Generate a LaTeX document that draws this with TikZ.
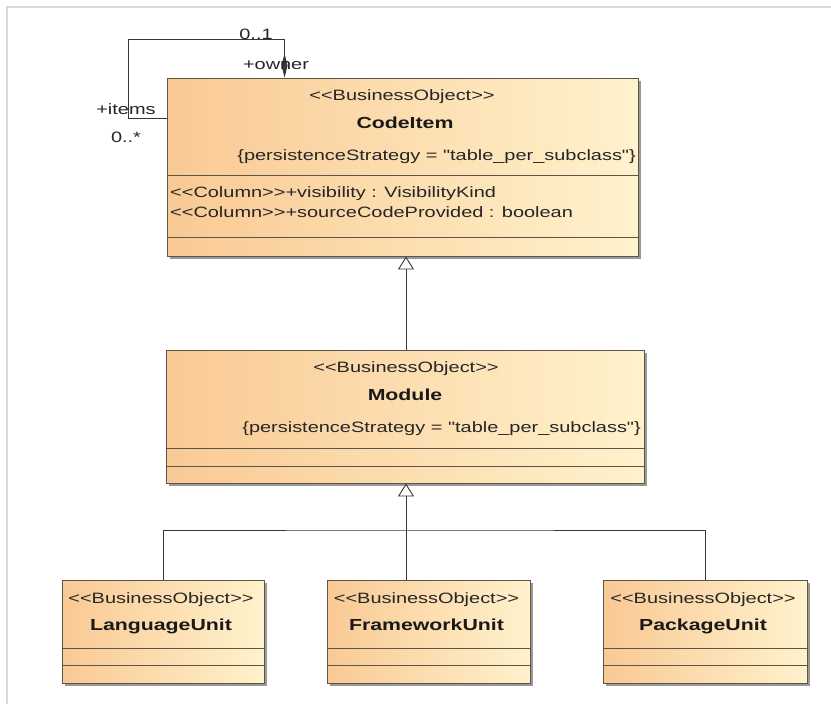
\documentclass[tikz,border=0pt]{standalone}
\usepackage{fontspec}
\usepackage{graphicx}
\newfontfamily\umlf{Liberation Sans}
\usetikzlibrary{arrows.meta,shadows}
\newcommand\hs[1]{\scalebox{1.33}[1]{#1}}
\definecolor{peach}{RGB}{249,201,148}
\definecolor{cream}{RGB}{255,242,204}
\definecolor{boxline}{RGB}{95,85,70}
\definecolor{connc}{RGB}{55,55,55}
\definecolor{framec}{RGB}{218,218,218}
\begin{document}
\begin{tikzpicture}[x=1pt,y=-1pt,
  umlbox/.style={draw=boxline, line width=0.9pt, left color=peach, right color=cream,
    drop shadow={shadow xshift=3pt, shadow yshift=-3pt, fill=black!40, opacity=1},
    inner sep=0pt},
  sepline/.style={draw=boxline, line width=0.8pt},
  txt/.style={font=\umlf\fontsize{15}{18}\selectfont, inner sep=0pt, text=black!85,
    text height=11pt, text depth=3pt},
  bname/.style={font=\umlf\bfseries\fontsize{16}{19}\selectfont, inner sep=0pt, text=black!90,
    text height=12pt, text depth=3pt},
  conn/.style={draw=connc, line width=0.9pt},
  gen/.style={conn, -{Triangle[open, length=13pt, width=16pt, fill=white]}},
  comp/.style={conn, -{Diamond[length=24pt, width=6pt]}}
  ]
\useasboundingbox (0,0) rectangle (831,704);
\fill[white] (0,0) rectangle (831,704);
\draw[framec, line width=1.5pt] (7,704) -- (7,7) -- (831,7);

% boxes
\node[umlbox, minimum width=471pt, minimum height=178pt] (codeitem) at (402.5,167) {};
\node[umlbox, minimum width=478pt, minimum height=133pt] (module) at (405,416.5) {};
\node[umlbox, minimum width=202pt, minimum height=103pt] (lang) at (163,631.5) {};
\node[umlbox, minimum width=203pt, minimum height=103pt] (frame) at (428.5,631.5) {};
\node[umlbox, minimum width=204pt, minimum height=103pt] (pack) at (705,631.5) {};

% compartments
\draw[sepline] (codeitem.west |- 0,175) -- (codeitem.east |- 0,175);
\draw[sepline] (codeitem.west |- 0,237) -- (codeitem.east |- 0,237);
\draw[sepline] (module.west |- 0,448) -- (module.east |- 0,448);
\draw[sepline] (module.west |- 0,466) -- (module.east |- 0,466);
\foreach \b in {lang,frame,pack}{
  \draw[sepline] (\b.west |- 0,648) -- (\b.east |- 0,648);
  \draw[sepline] (\b.west |- 0,665) -- (\b.east |- 0,665);
}

% CodeItem texts
\node[txt] (ci-st) at (402,96) {\hs{<<BusinessObject>>}};
\node[bname] (ci-nm) at (405,124) {\hs{CodeItem}};
\node[txt, anchor=east] (ci-ps) at (636,156) {\hs{\{persistenceStrategy = "table\_per\_subclass"\}}};
\node[txt, anchor=west] (ci-a1) at (170,193) {\hs{<<Column>>+visibility : VisibilityKind}};
\node[txt, anchor=west] (ci-a2) at (170,213) {\hs{<<Column>>+sourceCodeProvided : boolean}};

% Module texts
\node[txt] (mo-st) at (406,368) {\hs{<<BusinessObject>>}};
\node[bname] (mo-nm) at (405,396) {\hs{Module}};
\node[txt, anchor=east] (mo-ps) at (641,428) {\hs{\{persistenceStrategy = "table\_per\_subclass"\}}};

% leaf texts
\node[txt] (la-st) at (161,599) {\hs{<<BusinessObject>>}};
\node[bname] (la-nm) at (161,626) {\hs{LanguageUnit}};
\node[txt] (fr-st) at (426.5,599) {\hs{<<BusinessObject>>}};
\node[bname] (fr-nm) at (426.5,626) {\hs{FrameworkUnit}};
\node[txt] (pa-st) at (703,599) {\hs{<<BusinessObject>>}};
\node[bname] (pa-nm) at (703,626) {\hs{PackageUnit}};

% generalizations
\coordinate (gx) at (406,0);
\coordinate (j) at (406,530);
\draw[gen] (module.north -| gx) -- (codeitem.south -| gx);
\draw[conn] (lang.north) |- (j) -| (pack.north);
\draw[gen] (frame.north -| j) -- (module.south -| j);

% self association
\coordinate (loopc) at (128,39);
\draw[comp] ([yshift=-41pt]codeitem.north west) -| (loopc) -| ([xshift=118pt]codeitem.north west);
\node[txt] (m01) at (256,35) {\hs{0..1}};
\node[txt] (own) at (276,65) {\hs{+owner}};
\node[txt] (itm) at (126,110) {\hs{+items}};
\node[txt] (m0s) at (126,138) {\hs{0..*}};
\end{tikzpicture}
\end{document}
